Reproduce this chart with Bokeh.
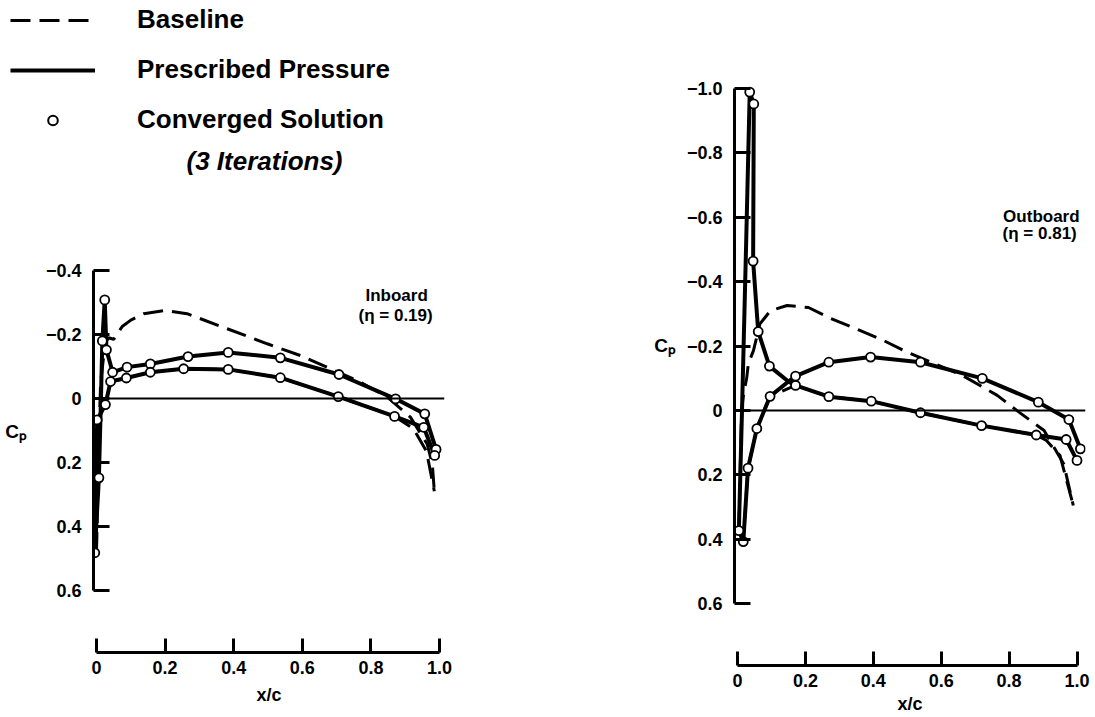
from bokeh.plotting import figure
from bokeh.models import (Range1d, FixedTicker, CustomJSTickFormatter, Span, Label,
                          Legend, LegendItem, LinearAxis)
from bokeh.layouts import row, column
from bokeh.embed import file_html
from bokeh.resources import INLINE

FONT = "Liberation Sans"

# ---------------- tick values / labels ----------------
x_ticks = [0, 0.2, 0.4, 0.6, 0.8, 1.0]
x_tick_labels = ["0", "0.2", "0.4", "0.6", "0.8", "1.0"]
in_y_ticks = [-0.4, -0.2, 0, 0.2, 0.4, 0.6]
in_y_tick_labels = ["\u22120.4", "\u22120.2", "0", "0.2", "0.4", "0.6"]
out_y_ticks = [-1.0, -0.8, -0.6, -0.4, -0.2, 0, 0.2, 0.4, 0.6]
out_y_tick_labels = ["\u22121.0", "\u22120.8", "\u22120.6", "\u22120.4", "\u22120.2",
                     "0", "0.2", "0.4", "0.6"]

# ---------------- Inboard (eta = 0.19) ----------------
base_in_up_x = [0.0, 0.005, 0.012, 0.025, 0.035, 0.05, 0.075, 0.10, 0.138, 0.201, 0.264,
                0.381, 0.498, 0.595, 0.682, 0.770, 0.848, 0.915, 0.964, 0.979, 0.985]
base_in_up_cp = [0.48, 0.20, -0.05, -0.17, -0.19, -0.185, -0.225, -0.245, -0.265, -0.275,
                 -0.265, -0.218, -0.171, -0.134, -0.093, -0.051, -0.004, 0.058, 0.142,
                 0.204, 0.29]
base_in_lo_x = [0.0, 0.002, 0.026, 0.041, 0.087, 0.157, 0.254, 0.384, 0.536, 0.705,
                0.869, 0.924, 0.962, 0.985]
base_in_lo_cp = [0.48, 0.067, 0.019, -0.053, -0.064, -0.082, -0.093, -0.091, -0.065,
                 -0.006, 0.056, 0.094, 0.165, 0.29]

presc_in_up_x = [-0.005, 0.007, 0.013, 0.017, 0.024, 0.029, 0.047, 0.089, 0.157, 0.267,
                 0.384, 0.536, 0.707, 0.872, 0.957, 0.990]
presc_in_up_cp = [0.482, 0.248, 0.0, -0.18, -0.308, -0.152, -0.082, -0.098, -0.108,
                  -0.131, -0.144, -0.127, -0.075, 0.001, 0.048, 0.159]
presc_in_lo_x = [-0.005, 0.002, 0.026, 0.041, 0.087, 0.157, 0.254, 0.384, 0.536, 0.705,
                 0.869, 0.954, 0.986]
presc_in_lo_cp = [0.482, 0.067, 0.019, -0.053, -0.064, -0.082, -0.093, -0.091, -0.065,
                  -0.006, 0.056, 0.090, 0.178]

conv_in_up_x = [-0.005, 0.007, 0.017, 0.024, 0.029, 0.047, 0.089, 0.157, 0.267, 0.384,
                0.536, 0.707, 0.872, 0.957, 0.990]
conv_in_up_cp = [0.482, 0.248, -0.18, -0.308, -0.152, -0.082, -0.098, -0.108, -0.131,
                 -0.144, -0.127, -0.075, 0.001, 0.048, 0.159]
conv_in_lo_x = [0.002, 0.026, 0.041, 0.087, 0.157, 0.254, 0.384, 0.536, 0.705, 0.869,
                0.954, 0.986]
conv_in_lo_cp = [0.067, 0.019, -0.053, -0.064, -0.082, -0.093, -0.091, -0.065, -0.006,
                 0.056, 0.090, 0.178]

# ---------------- Outboard (eta = 0.81) ----------------
base_out_up_x = [0.004, 0.012, 0.018, 0.027, 0.032, 0.047, 0.066, 0.097, 0.146, 0.209,
                 0.274, 0.362, 0.431, 0.500, 0.662, 0.765, 0.829, 0.903, 0.961, 0.989]
base_out_up_cp = [0.373, 0.0, -0.053, -0.100, -0.146, -0.186, -0.269, -0.310, -0.326,
                  -0.320, -0.286, -0.248, -0.217, -0.181, -0.109, -0.047, 0.005, 0.062,
                  0.166, 0.295]
base_out_lo_x = [0.004, 0.017, 0.031, 0.057, 0.096, 0.171, 0.269, 0.394, 0.539, 0.719,
                 0.880, 0.910, 0.950, 0.989]
base_out_lo_cp = [0.373, 0.407, 0.179, 0.056, -0.044, -0.078, -0.043, -0.029, 0.007,
                  0.047, 0.076, 0.093, 0.140, 0.295]

presc_out_a_x = [0.004, 0.014, 0.025, 0.036, 0.048, 0.046, 0.061, 0.094, 0.150, 0.171,
                 0.269, 0.394, 0.539, 0.719, 0.880, 0.968, 1.000]
presc_out_a_cp = [0.373, -0.03, -0.50, -0.989, -0.952, -0.464, -0.245, -0.138, -0.090,
                  -0.078, -0.043, -0.029, 0.007, 0.047, 0.076, 0.090, 0.155]
presc_out_b_x = [0.004, 0.017, 0.031, 0.057, 0.096, 0.150, 0.171, 0.269, 0.392, 0.539,
                 0.721, 0.886, 0.976, 1.010]
presc_out_b_cp = [0.373, 0.407, 0.179, 0.056, -0.044, -0.090, -0.107, -0.150, -0.166,
                  -0.150, -0.100, -0.026, 0.028, 0.119]

conv_out_a_x = [0.004, 0.036, 0.048, 0.046, 0.061, 0.094, 0.171, 0.269, 0.394, 0.539,
                0.719, 0.880, 0.968, 1.000]
conv_out_a_cp = [0.373, -0.989, -0.952, -0.464, -0.245, -0.138, -0.078, -0.043, -0.029,
                 0.007, 0.047, 0.076, 0.090, 0.155]
conv_out_b_x = [0.017, 0.031, 0.057, 0.096, 0.171, 0.269, 0.392, 0.539, 0.721, 0.886,
                0.976, 1.010]
conv_out_b_cp = [0.407, 0.179, 0.056, -0.044, -0.107, -0.150, -0.166, -0.150, -0.100,
                 -0.026, 0.028, 0.119]

# ---------------- styles ----------------
DASH = "20 9"
BASE_W = 3
PRESC_W = 4
CIRC_SIZE = 9

FMT_CODE = """
for (let i = 0; i < vals.length; i++) {
  if (Math.abs(vals[i] - tick) < 1e-9) { return labs[i]; }
}
return "";
"""


def make_axis(ticks, labels, bounds, standoff, tick_in, axis_label=None, label_standoff=0,
              horizontal=False, label_size="18px"):
    ax = LinearAxis(
        ticker=FixedTicker(ticks=ticks),
        formatter=CustomJSTickFormatter(args=dict(vals=ticks, labs=labels), code=FMT_CODE),
        bounds=bounds,
        axis_line_width=3, axis_line_color="black",
        major_tick_line_width=3, major_tick_line_color="black",
        major_tick_in=tick_in, major_tick_out=0,
        minor_tick_line_color=None,
        major_label_text_font=FONT, major_label_text_font_style="bold",
        major_label_text_font_size="18px", major_label_text_color="black",
        major_label_standoff=standoff,
    )
    if axis_label:
        ax.axis_label = axis_label
        ax.axis_label_text_font = FONT
        ax.axis_label_text_font_style = "bold"
        ax.axis_label_text_font_size = label_size
        ax.axis_label_text_color = "black"
        ax.axis_label_standoff = label_standoff
        if horizontal:
            ax.axis_label_orientation = "horizontal"
    return ax


def panel(width, height, xr, yr, mb_left, mb_right, mb_top, mb_bottom,
          y_ticks, y_labels, y_bounds, xl_standoff, xal_standoff, yal_standoff):
    p = figure(width=width, height=height, x_range=Range1d(*xr), y_range=Range1d(*yr),
               x_axis_type=None, y_axis_type=None, output_backend="svg",
               toolbar_location=None, min_border_left=mb_left, min_border_right=mb_right,
               min_border_top=mb_top, min_border_bottom=mb_bottom)
    p.frame_align = False
    p.outline_line_color = None
    p.background_fill_color = "white"
    p.border_fill_color = "white"
    p.add_layout(make_axis(x_ticks, x_tick_labels, (0, 1), xl_standoff, 14,
                           "x/c", xal_standoff), "below")
    p.add_layout(make_axis(y_ticks, y_labels, y_bounds, 12, 16, "C\u209a",
                           yal_standoff, horizontal=True, label_size="19px"), "left")
    p.add_layout(Span(location=0, dimension="width", line_color="black", line_width=2))
    return p


def draw(p, bu_x, bu_y, bl_x, bl_y, pa_x, pa_y, pb_x, pb_y, ca_x, ca_y, cb_x, cb_y):
    for xs, ys in ((bu_x, bu_y), (bl_x, bl_y)):
        p.line(xs, ys, line_color="black", line_width=BASE_W, line_dash=DASH)
    for xs, ys in ((pa_x, pa_y), (pb_x, pb_y)):
        p.line(xs, ys, line_color="black", line_width=PRESC_W, line_join="round")
    for xs, ys in ((ca_x, ca_y), (cb_x, cb_y)):
        p.scatter(xs, ys, marker="circle", size=CIRC_SIZE, fill_color="white",
                  line_color="black", line_width=1.8)


def text(p, x, y, s, size, style="bold", align="center"):
    p.add_layout(Label(x=x, y=y, text=s, text_font=FONT, text_font_style=style,
                       text_font_size=size, text_align=align, text_baseline="middle",
                       text_color="black"))


# ---------------- legend block ----------------
LW, LH = 548, 180
lf = figure(width=LW, height=LH, x_range=Range1d(0, LW), y_range=Range1d(0, LH),
            x_axis_type=None, y_axis_type=None, output_backend="svg",
            toolbar_location=None, min_border=0)
lf.frame_align = False
lf.outline_line_color = None
r_base = lf.line(base_in_up_x, base_in_up_cp, line_color="black", line_width=BASE_W,
                 line_dash=DASH, visible=False)
r_presc = lf.line(presc_in_up_x, presc_in_up_cp, line_color="black",
                  line_width=PRESC_W, visible=False)
r_conv = lf.scatter(conv_in_up_x, conv_in_up_cp, marker="circle", size=9,
                    fill_color="white", line_color="black", line_width=2, visible=False)
legend = Legend(items=[LegendItem(label="Baseline", renderers=[r_base]),
                       LegendItem(label="Prescribed Pressure", renderers=[r_presc]),
                       LegendItem(label="Converged Solution", renderers=[r_conv])],
                location=(10, 45), glyph_width=85, glyph_height=24, label_height=24,
                label_standoff=42, spacing=19, padding=0, margin=0,
                border_line_color=None, background_fill_alpha=0,
                inactive_fill_alpha=0,
                label_text_font=FONT, label_text_font_style="bold",
                label_text_font_size="26px", label_text_color="black")
lf.add_layout(legend)
text(lf, 264, 20, "(3 Iterations)", "26px", style="bold italic")

# ---------------- inboard panel ----------------
pin = panel(548, 537, (-0.00875, 1.0146), (0.79375, -0.5875), 93, 104, 30, 65,
            in_y_ticks, in_y_tick_labels, (-0.4, 0.6), 8, 8, 16)
draw(pin, base_in_up_x, base_in_up_cp, base_in_lo_x, base_in_lo_cp,
     presc_in_up_x, presc_in_up_cp, presc_in_lo_x, presc_in_lo_cp,
     conv_in_up_x, conv_in_up_cp, conv_in_lo_x, conv_in_lo_cp)
text(pin, 0.875, -0.322, "Inboard", "17px")
text(pin, 0.872, -0.259, "(\u03b7 = 0.19)", "17px")

# ---------------- outboard panel ----------------
pout = panel(547, 717, (-0.00884, 1.0250), (0.7919, -1.1957), 186, 10, 25, 52,
             out_y_ticks, out_y_tick_labels, (-1.0, 0.6), 8, 4, 8)
draw(pout, base_out_up_x, base_out_up_cp, base_out_lo_x, base_out_lo_cp,
     presc_out_a_x, presc_out_a_cp, presc_out_b_x, presc_out_b_cp,
     conv_out_a_x, conv_out_a_cp, conv_out_b_x, conv_out_b_cp)
text(pout, 0.895, -0.602, "Outboard", "17px")
text(pout, 0.890, -0.550, "(\u03b7 = 0.81)", "17px")

layout = row(column(lf, pin), pout)
open("out.html", "w").write(file_html(layout, INLINE))
